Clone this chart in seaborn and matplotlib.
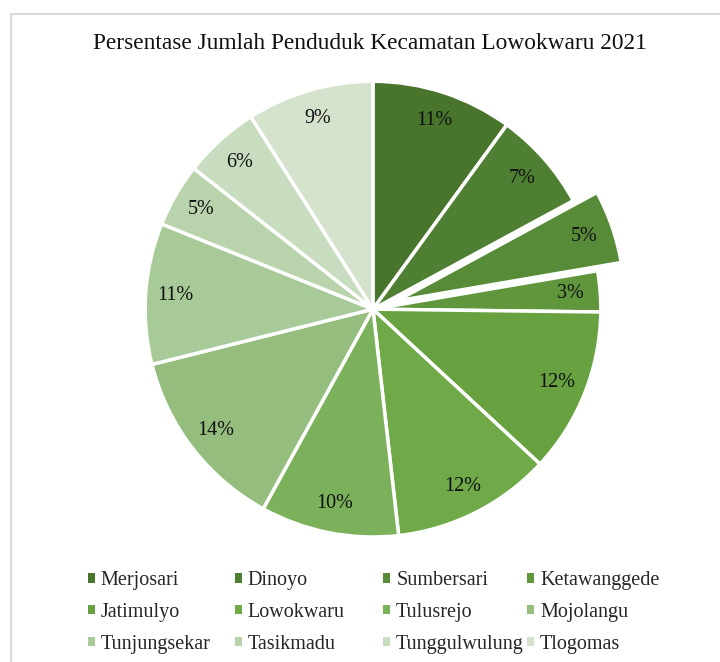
import matplotlib
matplotlib.use("Agg")
import numpy as np
import matplotlib.pyplot as plt
import seaborn as sns
from matplotlib.patches import Rectangle

# Data (share of population per kecamatan area)
districts = ["Merjosari", "Dinoyo", "Sumbersari", "Ketawanggede",
             "Jatimulyo", "Lowokwaru", "Tulusrejo", "Mojolangu",
             "Tunjungsekar", "Tasikmadu", "Tunggulwulung", "Tlogomas"]
shares = [10.0, 7.1, 5.2, 2.9, 11.7, 11.3, 9.8, 13.1, 10.0, 4.5, 5.4, 9.0]
pct_labels = ["11%", "7%", "5%", "3%", "12%", "12%", "10%", "14%",
              "11%", "5%", "6%", "9%"]
colors = ["#48742C", "#4F7F32", "#588B37", "#60973C", "#68A140", "#6FA948",
          "#7BB15A", "#95BD7E", "#A7CA98", "#B9D4AD", "#C8DDBF", "#D5E3CD"]
explode = [0, 0, 0.11, 0, 0, 0, 0, 0, 0, 0, 0, 0]

sns.set_theme(style="white")
plt.rcParams["font.family"] = ["Liberation Serif", "DejaVu Serif"]

fig = plt.figure(figsize=(7.2, 6.62), dpi=100)
fig.patch.set_facecolor("white")

# light grey chart-area frame
fig.patches.append(Rectangle((11 / 720, -0.05), 1.0, 1 - 14 / 662 + 0.05,
                             transform=fig.transFigure, fill=False,
                             edgecolor="#D9D9D9", linewidth=1.5))

ax = fig.add_axes([0.138, 0.12, 0.76, 0.826])
wedges, texts = ax.pie(shares, colors=colors, startangle=90, counterclock=False,
                       explode=explode,
                       wedgeprops=dict(edgecolor="white", linewidth=2.5))
for w, lab in zip(wedges, pct_labels):
    ang = np.deg2rad((w.theta1 + w.theta2) / 2)
    cx, cy = w.center
    ax.text(cx + 0.87 * np.cos(ang), cy + 0.87 * np.sin(ang), lab,
            ha="center", va="center", fontsize=14.5, color="#111111")
ax.set_xlim(-1.2, 1.2)
ax.set_ylim(-1.2, 1.2)
ax.set_aspect("equal")
ax.axis("off")

fig.suptitle("Persentase Jumlah Penduduk Kecamatan Lowokwaru 2021",
             x=0.514, y=0.935, va="center", fontsize=16.8, color="#111111")

# legend: 3 rows x 4 equal-width columns, filled row by row
n_cols = 4
col_x = [0.122, 0.326, 0.532, 0.732]
for c in range(n_cols):
    idx = list(range(c, len(districts), n_cols))
    leg = fig.legend([wedges[i] for i in idx], [districts[i] for i in idx],
                     loc="upper left", bbox_to_anchor=(col_x[c], 0.1375),
                     ncol=1, frameon=False, fontsize=14.5, handlelength=0.35,
                     handleheight=0.35, handletextpad=0.3,
                     labelspacing=0.64, borderpad=0, borderaxespad=0)
    for h in leg.legend_handles:
        h.set_edgecolor("none")

fig.savefig("out.png", dpi=100)
